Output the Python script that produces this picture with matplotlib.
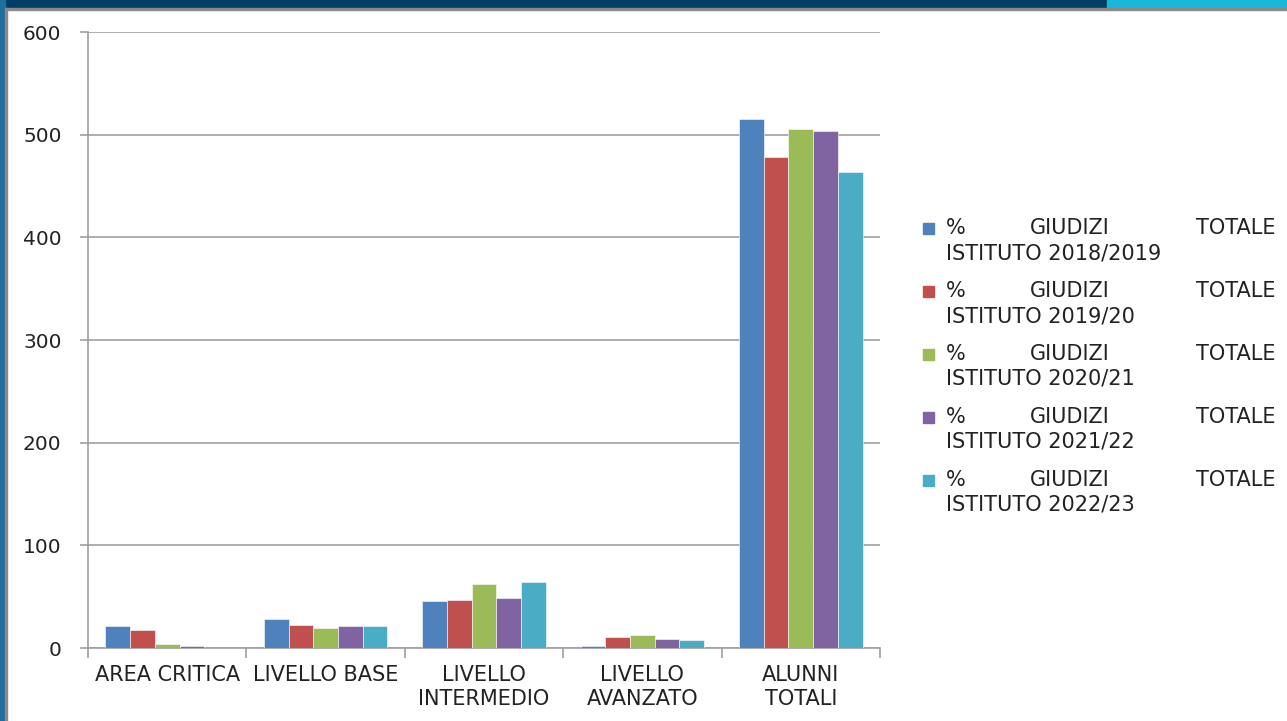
import numpy as np
import matplotlib
matplotlib.use('Agg')
import matplotlib.pyplot as plt
from matplotlib.patches import Rectangle

plt.rcParams['font.family'] = ['DejaVu Sans']

categories = ['AREA CRITICA', 'LIVELLO BASE', 'LIVELLO\nINTERMEDIO', 'LIVELLO\nAVANZATO', 'ALUNNI\nTOTALI']
series_names = ['ISTITUTO 2018/2019', 'ISTITUTO 2019/20', 'ISTITUTO 2020/21',
                'ISTITUTO 2021/22', 'ISTITUTO 2022/23']
v2018 = [21, 28.5, 45.5, 2, 515.5]
v2019 = [17.5, 22.7, 46.5, 11, 478]
v2020 = [4, 19, 62.5, 13, 505.5]
v2021 = [2, 21, 48.5, 9, 503.5]
v2022 = [0, 21, 64.5, 8, 463.5]
values = [v2018, v2019, v2020, v2021, v2022]
colors = ['#4F81BD', '#C0504D', '#9BBB59', '#8064A2', '#4BACC6']

fig = plt.figure(figsize=(12.87, 7.21), dpi=100)

# slide frame (dark band at top and left)
fig.patches.append(Rectangle((0, 1 - 8/721), 1, 8/721, transform=fig.transFigure,
                             color='#003E66', zorder=0))
fig.patches.append(Rectangle((0.86, 1 - 8/721), 0.14, 8/721, transform=fig.transFigure,
                             color='#19B8D8', zorder=0))
fig.patches.append(Rectangle((0, 1 - 10/721), 1, 2/721, transform=fig.transFigure,
                             color='#8A8A8A', zorder=0))
fig.patches.append(Rectangle((0, 0), 5/1287, 1, transform=fig.transFigure,
                             color='#1E6FA0', zorder=0))
fig.patches.append(Rectangle((5/1287, 0), 2/1287, 1 - 8/721, transform=fig.transFigure,
                             color='#8A8A8A', zorder=0))

ax = fig.add_axes([88/1287, 1 - 648/721, 792/1287, 616/721])

x = np.arange(len(categories))
w = 0.156
for i, (vals, c) in enumerate(zip(values, colors)):
    ax.bar(x + (i - 2) * w, vals, width=w, color=c, zorder=3,
           edgecolor='white', linewidth=0.4)

ax.set_xlim(-0.5, len(categories) - 0.5)
ax.set_ylim(0, 600)
ax.set_yticks(range(0, 601, 100))
ax.yaxis.grid(True, color='#A0A0A0', linewidth=1.2, zorder=0)
ax.set_axisbelow(True)

fs = 15
ax.set_xticks(np.arange(-0.5, len(categories), 1))
ax.set_xticklabels([])
ax.set_xticks(x, minor=True)
ax.set_xticklabels(categories, minor=True, fontsize=fs, color='#222222', linespacing=1.3)
ax.tick_params(axis='x', which='major', length=7, color='#A0A0A0', width=1.2)
ax.tick_params(axis='x', which='minor', length=0, pad=12)
ax.tick_params(axis='y', length=6, color='#A0A0A0', width=1.2, labelsize=14.5,
               labelcolor='#222222', pad=13)

for s in ['top', 'right']:
    ax.spines[s].set_visible(False)
for s in ['left', 'bottom']:
    ax.spines[s].set_color('#A0A0A0')
    ax.spines[s].set_linewidth(1.2)

# legend with justified first line
y0 = 228
for i, (name, c) in enumerate(zip(series_names, colors)):
    yy = 1 - (y0 + i * 63) / 721
    fig.patches.append(Rectangle((923/1287, yy - 6/721), 11/1287, 11/721,
                                 transform=fig.transFigure, color=c))
    fig.text(946/1287, yy, '%', fontsize=fs, va='center', ha='left', color='#222222')
    fig.text(1070/1287, yy, 'GIUDIZI', fontsize=fs, va='center', ha='center', color='#222222')
    fig.text(1276/1287, yy, 'TOTALE', fontsize=fs, va='center', ha='right', color='#222222')
    fig.text(946/1287, yy - 25/721, name, fontsize=fs, va='center', ha='left', color='#222222')

fig.savefig('out.png', dpi=100)
